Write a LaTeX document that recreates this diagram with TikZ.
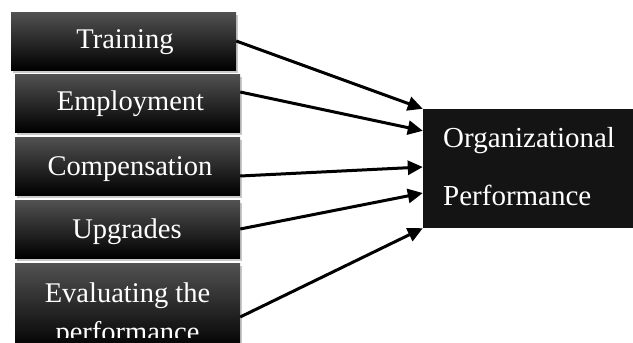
\documentclass[tikz,border=0pt]{standalone}
\usepackage{fontspec}
\setmainfont{Liberation Serif}
\usetikzlibrary{arrows.meta,shadows}
\begin{document}
\begin{tikzpicture}[x=1pt,y=-1pt,
  leftbox/.style={rectangle, draw=none, minimum width=225pt, inner sep=0pt,
    top color=black!68, middle color=black, bottom color=black, shading angle=0,
    drop shadow={shadow xshift=1.5pt, shadow yshift=-2.5pt, opacity=0.3, fill=black!70}},
  boxtext/.style={text=white, font=\fontsize{28.5}{33}\selectfont, anchor=base, inner sep=0pt},
  orgbox/.style={rectangle, draw=none, fill=black!92, minimum width=210pt, minimum height=119pt, inner sep=0pt},
  orgtext/.style={text=white, font=\fontsize{29}{33}\selectfont, anchor=base west, inner sep=0pt},
  conn/.style={line width=3pt, -{Triangle[length=15pt,width=14pt]}, black}
]
\useasboundingbox (0,0) rectangle (633,343);
\clip (0,0) rectangle (633,343);

\node[leftbox, minimum height=58pt] (tr) at (123.5,41) {};
\node[leftbox, minimum height=58pt] (em) at (127.5,103) {};
\node[leftbox, minimum height=58pt] (co) at (127.5,166) {};
\node[leftbox, minimum height=58pt] (up) at (127.5,229) {};
\node[leftbox, minimum height=87pt] (ev) at (127.5,306.5) {};

\node[boxtext] (trt) at (125,48) {Training};
\node[boxtext] (emt) at (130.5,110) {Employment};
\node[boxtext] (cot) at (130,175) {Compensation};
\node[boxtext] (upt) at (127,238) {Upgrades};
\node[boxtext] (evt1) at (127.5,302) {Evaluating the};
\begin{scope}
\clip (0,0) rectangle (633,337);
\node[boxtext] (evt2) at (127.5,341) {performance};
\end{scope}

\node[orgbox] (org) at (528,168.5) {};
\node[orgtext] (ot1) at (443,147) {Organizational};
\node[orgtext] (ot2) at (443,205) {Performance};

\draw[conn] (tr.east) -- (org.north west);
\draw[conn] ([yshift=11pt]em.east) -- ([yshift=-22pt]org.north west);
\draw[conn] ([yshift=-10pt]co.east) -- ([yshift=1.5pt]org.west);
\draw[conn] (up.east) -- ([yshift=-24.5pt]org.west);
\draw[conn] ([yshift=-10.5pt]ev.east) -- (org.south west);
\end{tikzpicture}
\end{document}
